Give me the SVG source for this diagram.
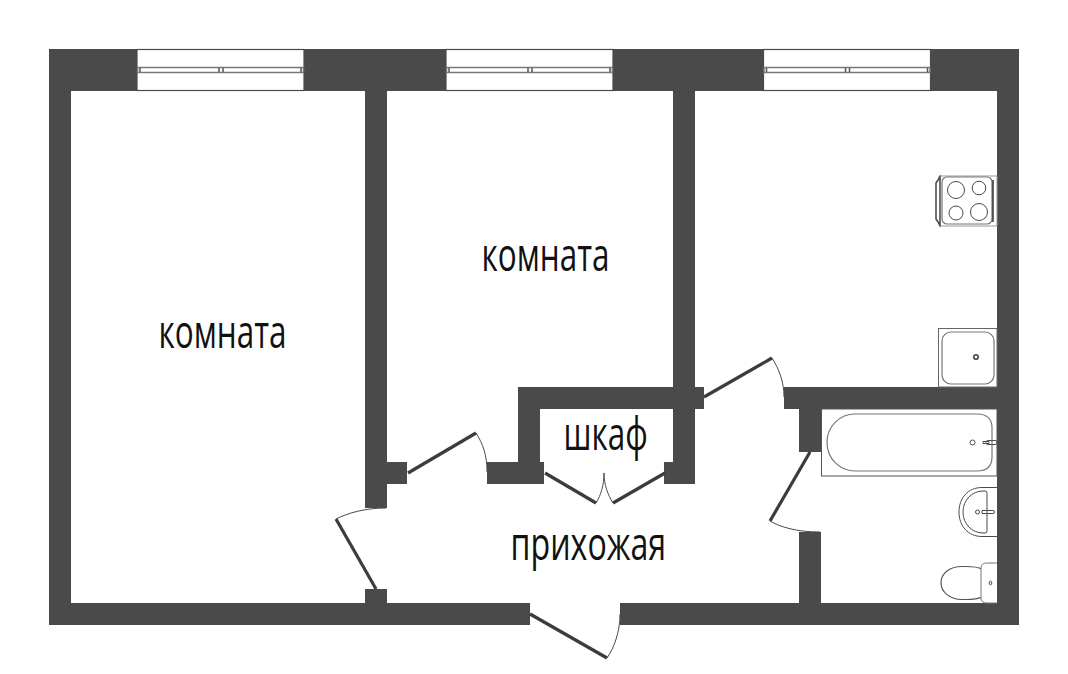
<svg xmlns="http://www.w3.org/2000/svg" width="1068" height="674" viewBox="0 0 1068 674">
<style>
.w{fill:#4a4a4a}
.d{stroke:#3c3c3c;stroke-width:3.2;fill:none}
.a{stroke:#4a4a4a;stroke-width:1;fill:none}
.f{stroke:#999;stroke-width:1;fill:#fff}
.g{stroke:#777;stroke-width:1.2;fill:none}
.t{font-family:"Open Sans","Noto Sans",sans-serif;font-size:45px;fill:#111}
</style>
<defs>
<g id="win">
<rect x="0" y="0" width="167" height="41" fill="#fff" stroke="#4a4a4a" stroke-width="1.2"/>
<rect x="0.5" y="18" width="166" height="5" fill="#fff" stroke="#777" stroke-width="1.5"/>
<path d="M3 18.500v4M82 18.500v4M86 18.500v4M164 18.500v4" stroke="#555" stroke-width="1.5"/>
</g>
</defs>
<rect width="1068" height="674" fill="#fff"/>
<g id="walls">
<path class="w" fill-rule="evenodd" d="M49 49H1019V625H620V603H997V91H71V603H530V625H49Z"/>
<rect class="w" x="365" y="91" width="22" height="417"/>
<rect class="w" x="365" y="589" width="22" height="16"/>
<rect class="w" x="387" y="462" width="20" height="22"/>
<rect class="w" x="673" y="91" width="22" height="393"/>
<rect class="w" x="664" y="462" width="31" height="22"/>
<rect class="w" x="518" y="387" width="186" height="22"/>
<rect class="w" x="518" y="387" width="22" height="97"/>
<rect class="w" x="487" y="462" width="57" height="22"/>
<rect class="w" x="784" y="387" width="213" height="22"/>
<rect class="w" x="799" y="387" width="22" height="65"/>
<rect class="w" x="799" y="532" width="22" height="71"/>
</g>
<g id="windows">
<use href="#win" x="137" y="49.500"/>
<use href="#win" x="446" y="49.500"/>
<use href="#win" x="763.500" y="49.500"/>
</g>
<g id="connectors">
<path class="d" d="M408 473L476 433"/><path class="a" d="M476 433C483 444 487 455 487 472"/>
<path class="d" d="M545 473L596 503"/><path class="a" d="M596 503C601 495 604 485 604 473"/>
<path class="d" d="M665 473L613 503"/><path class="a" d="M613 503C608 495 604 485 604 473"/>
<path class="d" d="M704 397L772 358"/><path class="a" d="M772 358C779 369 784 382 784 397"/>
<path class="d" d="M810 452L770 521"/><path class="a" d="M770 521C780 527 797 532 820 532"/>
<path class="d" d="M376 589L336 519"/><path class="a" d="M336 519C348 513 365 508 386 508"/>
<path class="d" d="M530 614L607 658"/><path class="a" d="M607 658C614 648 620 632 620 614"/>
</g>
<g id="stove">
<path class="f" d="M939 176H997V226H939Z"/>
<path d="M940 177L936 183V219L940 225Z" fill="#fff" stroke="#444" stroke-width="1.500"/>
<rect class="g" x="942" y="177" width="50" height="47" rx="5"/>
<path d="M993 180V222" stroke="#333" stroke-width="1.500"/>
<circle class="a" cx="956" cy="190" r="8.500"/><circle class="a" cx="979" cy="188" r="6.800"/>
<circle class="a" cx="956" cy="213" r="7"/><circle class="a" cx="979" cy="212" r="8.500"/>
</g>
<g id="sink">
<rect x="938.500" y="328.500" width="58.500" height="58.500" fill="#fff" stroke="#666"/>
<rect class="g" x="942" y="332" width="52" height="52" rx="9"/>
<circle cx="976" cy="357" r="2.200" fill="none" stroke="#555" stroke-width="1.800"/>
</g>
<g id="bath">
<rect x="821.500" y="409" width="175.500" height="67" fill="#fff" stroke="#555" stroke-width="1"/>
<path class="g" d="M855 414H977Q992 414 992 428V457Q992 471 977 471H855C840 471 827 459 827 442.500C827 426 840 414 855 414Z"/>
<circle class="a" cx="972.500" cy="442.500" r="2.500"/>
<path class="a" d="M983 441.500h6v2h-6zM988 440.500h7a2 2 0 0 1 0 4h-7a2 2 0 0 1 0-4z"/>
</g>
<g id="basin">
<path class="a" d="M997 487.500H982C968 487.500 959 498 959 512C959 526 968 536.500 982 536.500H997"/>
<path class="a" d="M983 491H985Q987 491 987 493V531Q987 533 985 533H983C972 533 963 524 963 512C963 500 972 491 983 491Z"/>
<circle class="a" cx="977.500" cy="512" r="2"/>
<path class="a" d="M982 510.500h11a1.500 1.500 0 0 1 0 3h-11z"/>
</g>
<g id="toilet">
<path d="M982 569C976 566 970 566.500 962 566.500C950 566.500 941 573 941 583C941 592 950 599.500 962 599.500C970 599.500 976 600 982 597" fill="#fff" stroke="#555" stroke-width="1.200"/>
<path d="M997 563H987Q981 563 981 568V598Q981 603 987 603H997" fill="#fff" stroke="#777"/>
<ellipse class="a" cx="990.500" cy="583" rx="1.300" ry="1.800"/>
</g>
<g id="labels">
<text class="t" transform="translate(158.500 348) scale(.7 1)">комната</text>
<text class="t" transform="translate(481.500 271) scale(.7 1)">комната</text>
<text class="t" transform="translate(563.500 450) scale(.7 1)">шкаф</text>
<text class="t" transform="translate(510.500 559.500) scale(.715 1)">прихожая</text>
</g>
</svg>
